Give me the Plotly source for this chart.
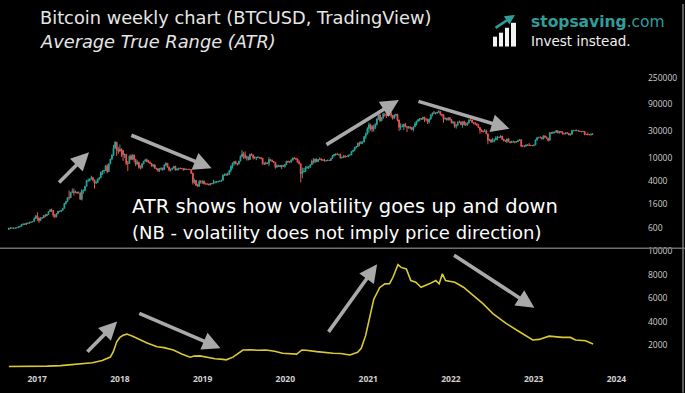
import plotly.graph_objects as go
import pandas as pd
import math

# ---------------- DATA (weekly BTCUSD candles, read/estimated from the picture) ----------------
year_start = ["2016-08-29", "2017-01-02", "2018-01-01", "2019-01-07",
              "2020-01-06", "2021-01-04", "2022-01-03", "2023-01-02"]
first_open = 575

close_2016 = [608, 608, 609, 603, 612, 617, 640, 654, 698, 705, 702, 745, 735, 766, 778, 790, 891, 1000]
high_2016 = [612, 630, 612, 612, 615, 620, 645, 660, 720, 740, 740, 750, 750, 775, 780, 800, 935, 1010]
low_2016 = [570, 600, 602, 590, 600, 606, 612, 625, 650, 680, 695, 690, 725, 730, 755, 770, 788, 890]

close_2017 = [910, 820, 920, 915, 1010, 995, 1050, 1180, 1270, 1230, 1020, 965, 1090, 1200, 1180, 1240, 1350,
              1640, 1770, 2060, 2050, 2550, 2650, 2530, 2590, 2500, 2510, 1930, 2750, 2760, 3250, 4050, 4090,
              4350, 4600, 4200, 3700, 3800, 4370, 4600, 5700, 5990, 6150, 7380, 5870, 8000, 9700, 11300,
              15000, 19100, 13900, 13400]
high_2017 = [1150, 920, 930, 925, 1030, 1075, 1060, 1195, 1290, 1330, 1260, 1070, 1100, 1210, 1215, 1250, 1360,
             1660, 1800, 2080, 2760, 2580, 2980, 2980, 2760, 2600, 2640, 2530, 2900, 2840, 3290, 4200, 4480,
             4400, 4980, 4700, 4250, 4100, 4400, 4630, 5850, 6150, 6200, 7600, 7880, 8100, 9750, 11800,
             17200, 19800, 19200, 15800]
low_2017 = [810, 750, 815, 885, 910, 940, 980, 1045, 1170, 1150, 940, 900, 930, 1060, 1160, 1170, 1230,
            1340, 1560, 1760, 1900, 2050, 2480, 2250, 2500, 2400, 2480, 1900, 1840, 2420, 2650, 3200, 3900,
            3950, 4300, 3970, 2970, 3560, 3740, 4160, 4570, 5100, 5400, 6100, 5500, 5850, 7900, 9300,
            11000, 14800, 11000, 12000]

close_2018 = [14400, 13700, 11500, 11800, 8200, 8100, 11000, 9600, 11400, 9500, 7900, 8500, 6900, 6900, 8000,
              8900, 9400, 8700, 8500, 8200, 7300, 7700, 6700, 6500, 6150, 6600, 6750, 6350, 7700, 8200, 7000,
              6300, 6400, 6700, 7250, 6250, 6500, 6700, 6600, 6600, 6300, 6450, 6400, 6400, 6400, 5500, 3800,
              4100, 3400, 3250, 3900, 3850, 4000]
high_2018 = [17300, 15000, 14000, 12000, 11800, 9000, 11200, 11800, 11700, 11600, 9800, 9200, 8700, 7500, 8200,
             9000, 9800, 9900, 9400, 8900, 8300, 7800, 7800, 6800, 6800, 6700, 6900, 6800, 7700, 8500, 8200,
             7200, 6600, 6900, 7400, 7400, 6600, 6800, 6900, 6700, 6700, 6800, 6550, 6550, 6550, 6500, 5600,
             4400, 4200, 3600, 4200, 4200, 4100]
low_2018 = [12800, 10600, 9000, 10100, 7600, 6000, 8000, 9300, 9300, 8500, 7300, 7900, 6600, 6400, 6600,
            7900, 8800, 8600, 8300, 7900, 7200, 7000, 6600, 6300, 5800, 5800, 6200, 6070, 6250, 7400, 6900,
            5900, 5900, 6200, 6700, 6100, 6150, 6150, 6500, 6500, 6100, 6300, 6300, 6300, 6300, 5300, 3500,
            3600, 3300, 3150, 3200, 3600, 3600]

close_2019 = [3600, 3580, 3550, 3450, 3620, 3600, 3800, 3880, 3900, 3980, 4000, 4150, 5050, 5070, 5300, 5260,
              6200, 7300, 8200, 8700, 8000, 8000, 8950, 10800, 11900, 11500, 10200, 10600, 9500, 11800, 11400,
              10300, 10100, 10300, 10400, 10300, 10000, 8000, 7900, 8300, 8200, 9500, 9200, 8800, 8500, 7000,
              7400, 7500, 7100, 7500, 7250, 7800]
high_2019 = [4100, 3750, 3650, 3600, 3690, 3700, 4200, 3950, 3950, 4000, 4100, 4200, 5300, 5450, 5400, 5650,
             6200, 7500, 8400, 8900, 9100, 8300, 9000, 11200, 13900, 13000, 13200, 11100, 10700, 11900, 12300,
             11600, 10900, 10600, 10950, 10500, 10300, 10100, 8500, 8700, 8400, 10500, 9500, 9500, 8900, 8500,
             7800, 7700, 7600, 7700, 7700, 7800]
low_2019 = [3500, 3550, 3450, 3400, 3350, 3550, 3580, 3650, 3700, 3800, 3900, 3900, 4100, 4900, 5000, 4950,
            5200, 5700, 6600, 7500, 7900, 7450, 7800, 8900, 10300, 9700, 9900, 9100, 9200, 9400, 11200,
            9500, 9800, 9300, 10000, 9900, 9600, 7750, 7800, 7900, 7900, 7300, 8900, 8600, 8400, 6600,
            6900, 7100, 7000, 6450, 7100, 6850]

close_2020 = [8900, 8650, 8600, 9300, 10150, 9900, 9700, 8500, 8000, 5400, 5800, 5900, 6800, 6900, 7100, 7700,
              8900, 8750, 9700, 8700, 9500, 9750, 9350, 9300, 9000, 9080, 9250, 9170, 9900, 11100, 11700,
              11850, 11650, 11700, 10250, 10300, 11100, 10750, 10700, 11400, 11400, 13100, 13800, 15500, 16000,
              18400, 18200, 19000, 19200, 24000, 26400, 33000]
high_2020 = [8900, 9100, 8800, 9600, 10200, 10500, 10200, 9900, 9200, 8200, 6900, 6800, 7300, 7450, 7300, 7800,
             9500, 10000, 9900, 9900, 9600, 10400, 9950, 9600, 9800, 9250, 9450, 9330, 10000, 11400, 11900,
             12100, 12450, 11800, 12100, 10500, 11200, 11200, 10950, 11500, 11700, 13300, 14000, 15900, 16400,
             18800, 19500, 19900, 19400, 24300, 28000, 34800]
low_2020 = [7600, 8500, 8250, 8500, 9100, 9700, 9300, 8500, 7900, 3800, 4500, 5700, 5850, 6600, 6500, 6800,
            7700, 8100, 8200, 8600, 8650, 9300, 9100, 9150, 8850, 8950, 9050, 9000, 9100, 9900, 10700,
            11100, 11350, 11100, 9900, 9900, 10200, 10200, 10500, 10500, 11200, 11400, 12900, 13300, 14900,
            15900, 16200, 17600, 17600, 19000, 21800, 26000]

close_2021 = [38200, 36000, 32200, 34300, 38900, 48600, 57500, 45200, 51000, 59000, 57500, 55800, 57000, 59800,
              56000, 50000, 56600, 58300, 46500, 34700, 35700, 35800, 39100, 35600, 34700, 35300, 34300, 31800,
              35400, 39900, 44600, 47000, 49300, 48800, 51800, 48300, 48300, 43200, 48200, 57500, 61500, 60900,
              61300, 63300, 65500, 59000, 57300, 49400, 50000, 46700, 50800, 47300]
high_2021 = [41900, 40000, 37800, 38500, 40800, 49500, 58300, 57500, 52500, 61800, 61000, 58500, 60000, 61500,
             64900, 57000, 58400, 59500, 59600, 46600, 40800, 39500, 40000, 41300, 36000, 36600, 35900, 34600,
             35500, 42600, 44800, 48100, 50500, 50500, 52900, 52900, 48900, 48500, 49200, 57800, 62900, 67000,
             63700, 64300, 69000, 66300, 59300, 59000, 51900, 50500, 52000, 52000]
low_2021 = [28000, 30500, 28800, 29200, 32300, 37400, 47000, 43000, 44900, 48800, 53300, 50400, 55500, 55400,
            51000, 47000, 48600, 53000, 43800, 30000, 31200, 34800, 31100, 34800, 28800, 32700, 32200, 31000,
            29300, 35300, 37400, 43100, 43900, 46500, 46500, 42800, 44700, 39600, 40800, 47100, 54000, 59500,
            58000, 59500, 62300, 55700, 53300, 42000, 46700, 45500, 45600, 45700]

close_2022 = [41900, 43100, 36300, 38200, 42400, 42200, 38400, 43200, 38900, 37800, 41300, 46800, 46400, 42200,
              40400, 39500, 37700, 34300, 31300, 29400, 29400, 29900, 26600, 20600, 21000, 19300, 20800, 20800,
              22600, 23300, 23200, 24400, 21500, 20300, 19800, 21800, 19400, 18800, 19300, 19400, 19200, 19600,
              20600, 21000, 16300, 16300, 16200, 17100, 17100, 16800, 16800, 16600]
high_2022 = [47600, 44400, 43500, 38900, 44500, 45800, 44700, 44300, 45400, 42500, 42300, 46900, 48200, 47200,
             42500, 42900, 40800, 39900, 35000, 31300, 30500, 32400, 31600, 26900, 21900, 21500, 22500, 21900,
             24300, 24600, 23700, 25200, 24500, 21900, 20600, 21900, 22700, 19900, 20200, 20400, 19900, 19700,
             21000, 21500, 21400, 17100, 16800, 17400, 17400, 18400, 17000, 16900]
low_2022 = [40600, 39700, 34000, 32900, 36300, 41600, 38000, 34300, 37200, 37200, 37600, 40500, 44900, 41900,
            39200, 38600, 37600, 34100, 26700, 28700, 28000, 29300, 26500, 17600, 19800, 18600, 19000, 18900,
            20700, 20700, 22500, 22700, 20800, 19700, 19500, 18500, 19300, 18200, 18500, 19000, 18200, 18900,
            19200, 20000, 15600, 15800, 15500, 16100, 16700, 16300, 16300, 16300]

close_2023 = [17100, 20900, 22800, 23000, 22900, 21800, 24600, 23500, 22400, 20600, 28000, 27500, 28500, 28300,
              30300, 27800, 29300, 28900, 26900, 26700, 28000, 27200, 25500, 26300, 30500, 30500, 30200, 30300,
              29800, 29300, 29100, 29400, 26100, 26000, 25800, 25800, 26500, 26300]
high_2023 = [17200, 21200, 23400, 23800, 24200, 23200, 25200, 25000, 23900, 22600, 28400, 28800, 29200, 28800,
             31000, 30500, 30000, 29800, 29000, 27600, 28200, 28400, 27400, 26800, 31400, 31300, 31500, 31800,
             30400, 30000, 29900, 30200, 29500, 26800, 28100, 26100, 26900, 27400]
low_2023 = [16500, 17000, 20400, 22300, 22700, 21400, 21500, 22700, 21900, 19600, 20100, 26600, 26600, 27200,
            28000, 27300, 26900, 27700, 25900, 26100, 26100, 26600, 25300, 24800, 26200, 29500, 29900, 29900,
            29500, 29000, 28600, 28700, 25200, 25800, 25400, 25400, 24900, 26000]

# ATR(14) on the weekly chart
atr_dates = ["2016-08-29", "2016-10-15", "2016-12-15", "2017-02-15", "2017-04-15", "2017-06-01", "2017-07-15",
             "2017-09-01", "2017-10-15", "2017-11-01", "2017-11-20", "2017-12-04", "2017-12-18", "2018-01-01",
             "2018-01-15", "2018-02-01", "2018-02-15", "2018-03-01", "2018-03-29", "2018-05-01", "2018-06-14",
             "2018-07-15", "2018-08-25", "2018-10-01", "2018-11-07", "2018-11-25", "2018-12-20", "2019-01-20",
             "2019-02-25", "2019-04-01", "2019-04-15", "2019-05-15", "2019-06-01", "2019-06-28", "2019-08-01",
             "2019-09-01", "2019-10-08", "2019-11-15", "2019-12-20", "2020-01-22", "2020-02-20", "2020-03-14",
             "2020-04-01", "2020-05-19", "2020-06-20", "2020-07-30", "2020-09-01", "2020-10-12", "2020-11-15",
             "2020-12-01", "2020-12-20", "2021-01-08", "2021-01-25", "2021-02-20", "2021-03-15", "2021-04-05",
             "2021-04-20", "2021-05-12", "2021-05-26", "2021-06-18", "2021-07-08", "2021-07-30", "2021-08-22",
             "2021-09-27", "2021-10-26", "2021-11-10", "2021-11-24", "2021-12-08", "2022-01-18", "2022-02-25",
             "2022-04-10", "2022-05-22", "2022-07-05", "2022-09-01", "2022-10-30", "2022-12-28", "2023-01-25",
             "2023-03-10", "2023-05-08", "2023-06-12", "2023-07-05", "2023-08-18", "2023-09-20"]
atr_values = [190, 185, 200, 230, 270, 340, 420, 520, 700, 850, 1000, 1500, 2300, 2670,
              2850, 2950, 2880, 2750, 2500, 2200, 1880, 1800, 1600, 1250, 990, 1080, 1100, 980,
              850, 800, 760, 990, 1200, 1600, 1620, 1580, 1600, 1500, 1320, 1270, 1250, 1600,
              1580, 1460, 1380, 1325, 1300, 1180, 1400, 1750, 2800, 4400, 5900, 6900, 7230, 7250,
              7790, 8860, 8630, 8500, 7510, 7370, 6940, 7230, 7510, 7230, 8080, 7510, 7370, 6940,
              6240, 5540, 4700, 3860, 3150, 2450, 2500, 2780, 2670, 2670, 2450, 2390, 2110]

year_ticks = ["2017", "2018", "2019", "2020", "2021", "2022", "2023", "2024"]
price_ticks = [600, 1600, 4000, 10000, 30000, 90000, 250000]
atr_ticks = [2000, 4000, 6000, 8000, 10000]

# ---------------- BUILD SERIES ----------------
closes = [close_2016, close_2017, close_2018, close_2019, close_2020, close_2021, close_2022, close_2023]
highs = [high_2016, high_2017, high_2018, high_2019, high_2020, high_2021, high_2022, high_2023]
lows = [low_2016, low_2017, low_2018, low_2019, low_2020, low_2021, low_2022, low_2023]

dates, c, h, l = [], [], [], []
for start, cl, hi, lo in zip(year_start, closes, highs, lows):
    dates += list(pd.date_range(start, periods=len(cl), freq="7D"))
    c += cl
    h += hi
    l += lo
o = [first_open] + c[:-1]

GREEN = "#26a69a"
RED = "#ef5350"
YELLOW = "#d9c933"
ARROW = "#a9a9a9"
TEAL = "#2f9d9a"
FONT = "DejaVu Sans"
AXFONT = "Open Sans"

# pixel geometry helpers (figure 685x393, plot area 647x372 at top-left)
PW, PH = 647.0, 372.0
def px(x):
    return x / PW
def py(y):
    return 1 - y / PH

fig = go.Figure()
fig.add_trace(go.Candlestick(
    x=dates, open=o, high=h, low=l, close=c, xaxis="x", yaxis="y",
    increasing=dict(line=dict(color=GREEN, width=1), fillcolor=GREEN),
    decreasing=dict(line=dict(color=RED, width=1), fillcolor=RED),
    whiskerwidth=0, showlegend=False, hoverinfo="skip"))
fig.add_trace(go.Scatter(
    x=pd.to_datetime(atr_dates), y=atr_values, xaxis="x", yaxis="y2", mode="lines",
    line=dict(color=YELLOW, width=1.6), showlegend=False, hoverinfo="skip"))

axis_font = dict(family=AXFONT, size=8.5, color="#cfcfcf")

fig.update_layout(
    width=685, height=393,
    margin=dict(l=0, r=38, t=0, b=21),
    paper_bgcolor="black", plot_bgcolor="black",
    xaxis=dict(type="date", range=["2016-07-21", "2024-05-15"], anchor="y2",
               showgrid=False, zeroline=False, showline=False, ticks="", ticklen=0,
               tickvals=[f"{y}-01-01" for y in year_ticks],
               ticktext=[f"<b>{y}</b>" for y in year_ticks],
               tickfont=dict(family=AXFONT, size=8.5, color="#d0d0d0"),
               rangeslider=dict(visible=False)),
    yaxis=dict(type="log", domain=[py(246), py(60)], range=[2.448, 5.655], side="right",
               showgrid=False, zeroline=False, showline=False, ticks="", ticklen=0,
               tickvals=price_ticks, ticktext=[str(v) for v in price_ticks],
               tickfont=axis_font),
    yaxis2=dict(domain=[0, py(248)], range=[-274, 10168], side="right",
                showgrid=False, zeroline=False, showline=False, ticks="", ticklen=0,
                tickvals=atr_ticks, ticktext=[str(v) for v in atr_ticks],
                tickfont=axis_font),
    showlegend=False,
)

# trend arrows (tail -> head) in data coordinates
price_arrows = [("2017-04-01", 3565, "2017-08-18", 12700),
                ("2018-02-14", 25900, "2019-02-10", 6730),
                ("2020-06-24", 16700, "2021-05-16", 104000),
                ("2021-08-04", 100000, "2022-09-16", 32900)]
atr_arrows = [("2017-08-04", 1330, "2017-12-20", 4020),
              ("2018-03-21", 4780, "2019-03-21", 1750),
              ("2020-07-05", 3010, "2021-02-09", 8900),
              ("2022-01-08", 9750, "2023-01-04", 5200)]
annotations = []
for tx, ty, hx, hy in price_arrows:
    annotations.append(dict(x=hx, y=math.log10(hy), ax=tx, ay=math.log10(ty), xref="x", yref="y",
                            axref="x", ayref="y", text="", showarrow=True, arrowhead=2, arrowsize=1.0,
                            arrowwidth=3.6, arrowcolor=ARROW, standoff=0))
for tx, ty, hx, hy in atr_arrows:
    annotations.append(dict(x=hx, y=hy, ax=tx, ay=ty, xref="x", yref="y2",
                            axref="x", ayref="y2", text="", showarrow=True, arrowhead=2, arrowsize=1.0,
                            arrowwidth=3.6, arrowcolor=ARROW, standoff=0))

def label(text, x, y, size, color, anchor="left", family=FONT):
    annotations.append(dict(text=text, x=px(x), y=py(y), xref="paper", yref="paper", xanchor=anchor,
                            yanchor="middle", align="left", showarrow=False,
                            font=dict(family=family, size=size, color=color)))

label("Bitcoin weekly chart (BTCUSD, TradingView)", 38, 14, 17.8, "#e6e6e6")
label("<i>Average True Range (ATR)</i>", 38, 38, 17.8, "#e6e6e6")
label("ATR shows how volatility goes up and down", 130, 205, 19.5, "#ffffff")
label("(NB - volatility does not imply price direction)", 130, 230.5, 18, "#ffffff")
label("<b>stopsaving</b>.com", 529, 18, 15.5, TEAL)
label("Invest instead.", 529, 37.5, 13.5, "#f0f0f0")

# logo arrow
annotations.append(dict(x=px(515), y=py(11), ax=-21, ay=14, xref="paper", yref="paper",
                        text="", showarrow=True, arrowhead=2, arrowsize=0.8, arrowwidth=2.5,
                        arrowcolor=TEAL, standoff=0))
fig.update_layout(annotations=annotations)

shapes = []
# logo bars
for x0, x1, top in [(493, 497, 33), (499, 503, 29), (505, 509, 24), (511, 516, 19)]:
    shapes.append(dict(type="rect", xref="paper", yref="paper", x0=px(x0), x1=px(x1), y0=py(43), y1=py(top),
                       fillcolor="#f2f2f2", line=dict(width=0)))
# panel separator and right border
shapes.append(dict(type="line", xref="paper", yref="paper", x0=0, x1=px(685), y0=py(247), y1=py(247),
                   line=dict(color="#6e6e6e", width=1.5)))
shapes.append(dict(type="line", xref="paper", yref="paper", x0=px(683), x1=px(683), y0=py(393), y1=1,
                   line=dict(color="#7a7a7a", width=1.5)))
fig.update_layout(shapes=shapes)

fig.write_html("out.html", config={"displayModeBar": False},
               post_script="document.body.style.margin='0';document.body.style.background='black';")
